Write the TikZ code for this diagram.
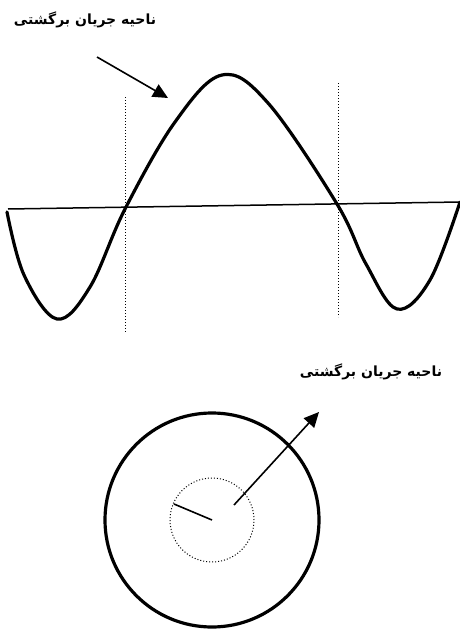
\documentclass[tikz,border=0pt]{standalone}
\usepackage{fontspec}
\usetikzlibrary{arrows.meta,positioning}
\TeXXeTstate=1
\newfontfamily\arabicfont[Script=Arabic]{DejaVu Sans Bold}
\tikzset{
  wave/.style={line width=3.2pt,line join=round,line cap=round},
  axisline/.style={line width=1.5pt},
  guide/.style={dotted,line width=1pt},
  pointer/.style={-{Triangle[length=15pt,width=14pt]},line width=1.6pt},
  label/.style={font=\arabicfont\fontsize{14}{16}\selectfont,inner sep=0pt}
}
\begin{document}
\begin{tikzpicture}[x=1pt,y=1pt]
          \useasboundingbox (0,0) rectangle (460,-632);
          \node[label] (topnote) at (85,-20) {\beginR ناحیه جریان برگشتی\endR};
          \coordinate (toptail) at (97,-57);
          \coordinate (toptip) at (168,-98);
          \draw[pointer] (toptail) -- (toptip);
          \coordinate (axisL) at (8,-209);
          \coordinate (axisR) at (460,-202);
          \draw[axisline] (axisL) -- (axisR);
          \draw[guide] (125,-97) -- (125,-332);
          \draw[guide] (338,-83) -- (338,-317);
          \draw[wave]
            plot[smooth,tension=0.6] coordinates {(7,-212) (24,-275) (57,-319) (90,-287)
              (125,-209) (175,-122) (222,-75) (268,-103) (337,-204) (366,-264)
              (397,-309) (430,-280) (460,-202)};
          \node[label] (botnote) at (371,-372) {\beginR ناحیه جریان برگشتی\endR};
          \coordinate (core) at (212,-520);
          \draw[line width=3.2pt] (core) circle[radius=107];
          \draw[guide] (core) circle[radius=42];
          \coordinate (rim) at (174,-504);
          \draw[line width=1.6pt] (core) -- (rim);
          \coordinate (bottail) at (234,-505);
          \coordinate (bottip) at (319,-412);
          \draw[pointer] (bottail) -- (bottip);
        \end{tikzpicture}
\end{document}
